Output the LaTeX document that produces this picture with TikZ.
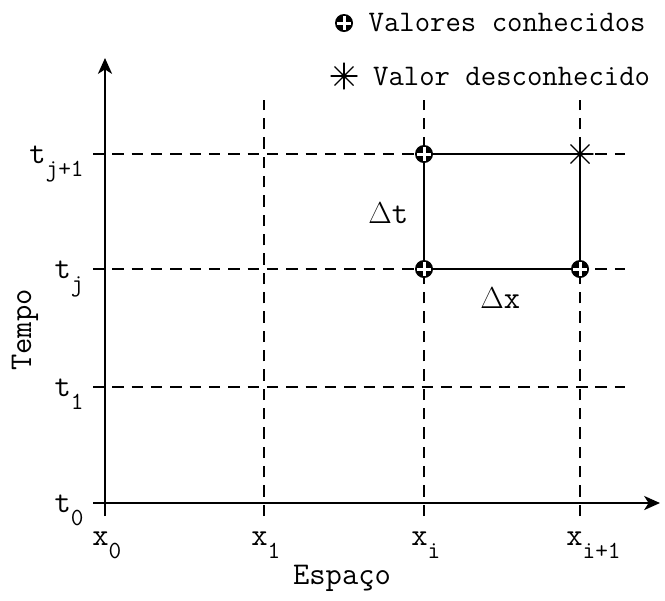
\documentclass[tikz,border=0pt]{standalone}
\usetikzlibrary{positioning, arrows.meta}

% label with a large, lowered index
\newcommand{\idx}[2]{#1\raisebox{-0.42em}{\fontsize{14}{14}\selectfont #2}}

\begin{document}
\begin{tikzpicture}[x=0.02cm, y=-0.02cm,
        % Style definitions
        axis/.style={
            line width=1.3pt,
            -{Stealth[length=9pt, width=8pt, inset=2.5pt]}
        },
        gridline/.style={
            line width=1pt,
            dash pattern=on 6.5pt off 4.5pt
        },
        cell/.style={
            line width=1.3pt
        },
        known/.style={
            circle, fill=black, inner sep=0pt, minimum size=0.36cm,
            path picture={
                \draw[white, line width=1.7pt]
                    ([yshift=-1.3pt]path picture bounding box.north) -- ([yshift=1.3pt]path picture bounding box.south)
                    ([xshift=1.3pt]path picture bounding box.west) -- ([xshift=-1.3pt]path picture bounding box.east);
            }
        },
        unknown/.style={
            circle, inner sep=0pt, minimum size=0.54cm,
            path picture={
                \foreach \a in {0,45,...,315}
                    \draw[line width=0.7pt] (path picture bounding box.center) -- ++(\a:0.3cm);
                \fill (path picture bounding box.center) circle (1.6pt);
            }
        },
        txt/.style={
            font=\ttfamily\fontsize{18}{20}\selectfont,
            inner sep=0pt
        },
        keytxt/.style={
            font=\ttfamily\fontsize{17}{19}\selectfont,
            inner sep=0pt
        }
    ]

        \useasboundingbox (0,0) rectangle (665,600);

        % ==========================================
        % Axes
        % ==========================================
        \coordinate (xaxis start) at (93,503);
        \coordinate (xaxis end) at (660,503);
        \coordinate (yaxis start) at (105,516);
        \coordinate (yaxis end) at (105,58);

        \draw [axis] (xaxis start) -- (xaxis end);
        \draw [axis] (yaxis start) -- (yaxis end);

        % ==========================================
        % Dashed grid
        % ==========================================
        % Space levels (vertical lines)
        \foreach \name/\x in {x1/264, xi/424, xip/580} {
            \coordinate (\name bot) at (\x,516);
            \coordinate (\name top) at (\x,100);
            \draw [gridline] (\name bot) -- (\name top);
        }

        % Time levels (horizontal lines)
        \foreach \name/\y in {t1/387, tj/269, tjp/154} {
            \coordinate (\name left) at (93,\y);
            \coordinate (\name right) at (625,\y);
            \draw [gridline] (\name left) -- (\name right);
        }

        % ==========================================
        % Computational cell
        % ==========================================
        \coordinate (c i j) at (424,269);
        \coordinate (c ip j) at (580,269);
        \coordinate (c i jp) at (424,154);
        \coordinate (c ip jp) at (580,154);

        \draw [cell] (c i j) -- (c ip j) -- (c ip jp) -- (c i jp) -- cycle;

        \node (p i j) [known] at (c i j) {};
        \node (p ip j) [known] at (c ip j) {};
        \node (p i jp) [known] at (c i jp) {};
        \node (p ip jp) [unknown] at (c ip jp) {};

        \node (dt) [txt, anchor=base west] at (368,223) {$\Delta$t};
        \node (dx) [txt, anchor=base west] at (480,308) {$\Delta$x};

        % ==========================================
        % Axis labels
        % ==========================================
        \node (lx0) [txt, anchor=base west] at (92,545) {\idx{x}{0}};
        \node (lx1) [txt, anchor=base west] at (251,545) {\idx{x}{1}};
        \node (lxi) [txt, anchor=base west] at (411,545) {\idx{x}{i}};
        \node (lxip) [txt, anchor=base west] at (566,545) {\idx{x}{i+1}};

        \node (lt0) [txt, anchor=base east] at (84,512) {\idx{t}{0}};
        \node (lt1) [txt, anchor=base east] at (84,396) {\idx{t}{1}};
        \node (ltj) [txt, anchor=base east] at (84,278) {\idx{t}{j}};
        \node (ltjp) [txt, anchor=base east] at (84,163) {\idx{t}{j+1}};

        \node (space) [txt] at (342,578) {Espaço};
        \node (time) [txt, rotate=90] at (25,330) {Tempo};

        % ==========================================
        % Legend
        % ==========================================
        \node (key known) [known] at (344,23) {};
        \node (key unknown) [unknown] at (344,76) {};
        \node (key known txt) [keytxt, right=0.3cm of key known] {Valores conhecidos};
        \node (key unknown txt) [keytxt, right=0.3cm of key unknown] {Valor desconhecido};

    \end{tikzpicture}
\end{document}
